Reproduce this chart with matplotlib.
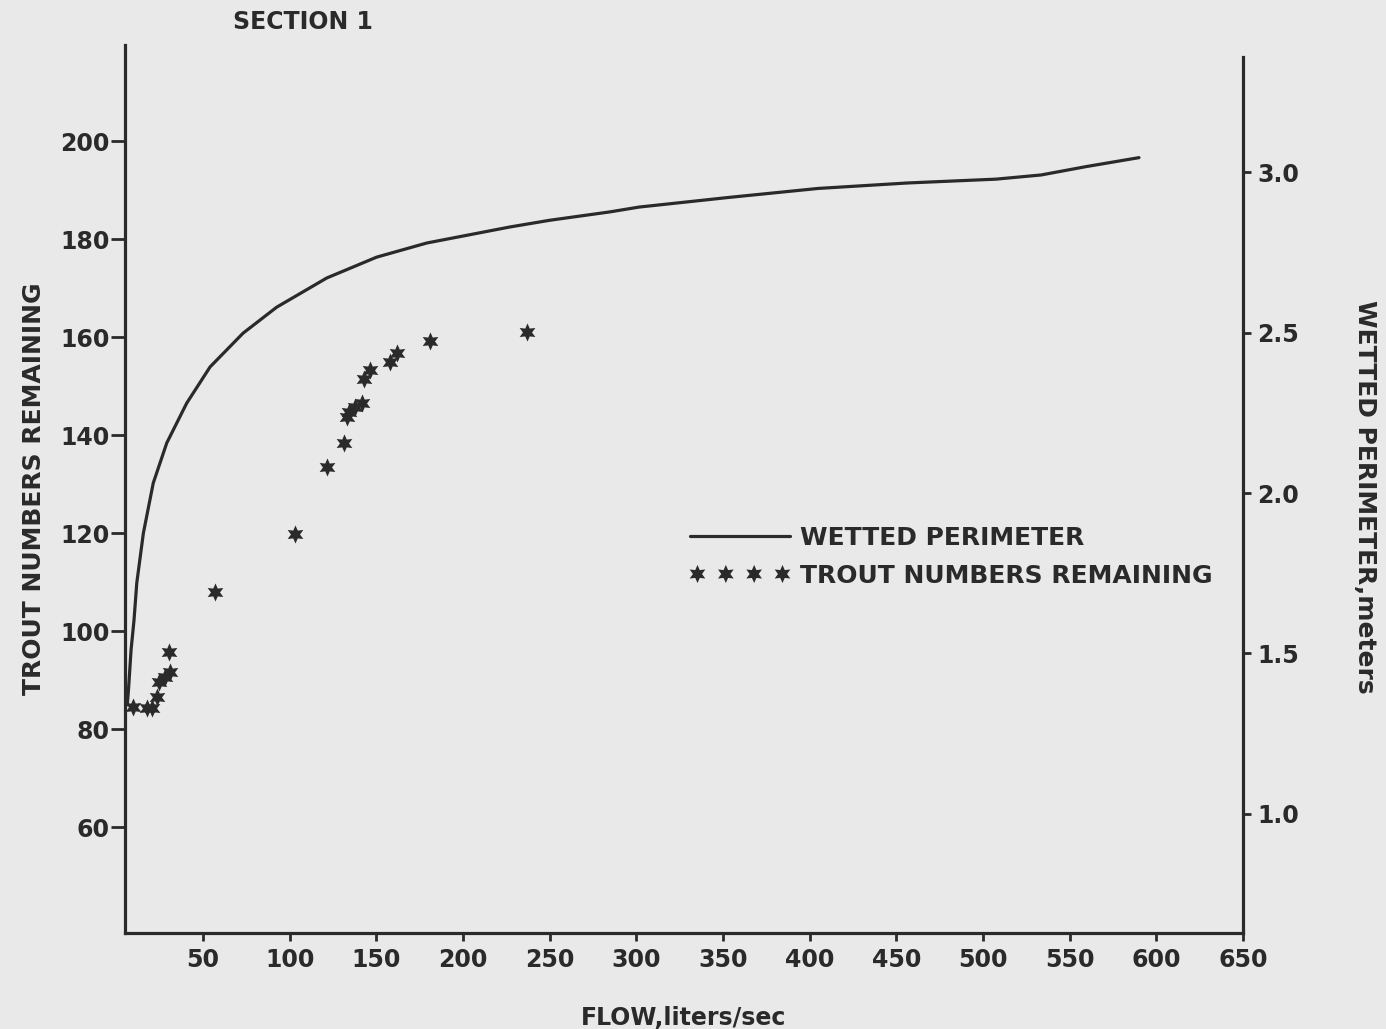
import matplotlib
matplotlib.use("Agg")
import matplotlib.pyplot as plt

plt.rcParams['font.family'] = ['DejaVu Sans']
plt.rcParams['font.weight'] = 'bold'
plt.rcParams['axes.labelweight'] = 'bold'

INK = '#2a2a2a'
BG = '#e9e9e9'

# Trout numbers remaining (left axis) vs flow
star_flow = [9.8, 17.5, 20.4, 23.5, 24.8, 28.1, 31.0, 30.3, 56.9, 103.1, 121.7,
             131.5, 133.3, 134.4, 137.7, 141.6, 142.9, 146.4, 157.9, 161.8, 181.0, 236.8]
trout = [84.5, 84.3, 84.3, 86.5, 89.7, 90.7, 91.6, 95.7, 108.0, 119.8, 133.5,
         138.3, 143.7, 144.8, 145.7, 146.6, 151.4, 153.3, 155.0, 156.8, 159.2, 161.1]

# Wetted perimeter (right axis) vs flow
wp_flow = [6.3, 7.0, 8.5, 10.2, 11.8, 15.6, 21.3, 29.1, 40.6, 54.1, 73.1, 92.5,
           121.4, 150.2, 179.1, 227.1, 250.2, 284.8, 301.6, 353.3, 404.8, 456.2,
           507.5, 533.5, 559.4, 590.0]
wp = [1.340, 1.386, 1.511, 1.604, 1.720, 1.875, 2.031, 2.156, 2.280, 2.393, 2.498,
      2.579, 2.670, 2.735, 2.779, 2.829, 2.850, 2.876, 2.891, 2.921, 2.949, 2.966,
      2.978, 2.991, 3.017, 3.045]

x_ticks = [50, 100, 150, 200, 250, 300, 350, 400, 450, 500, 550, 600, 650]
left_ticks = [60, 80, 100, 120, 140, 160, 180, 200]
right_ticks = [1.0, 1.5, 2.0, 2.5, 3.0]

W, H = 1386, 1029
fig = plt.figure(figsize=(W / 100, H / 100), dpi=100, facecolor=BG)
ax = fig.add_axes([125 / W, 1 - 933 / H, 1118 / W, 888 / H])
ax.set_facecolor('none')
ax2 = ax.twinx()
ax2.set_facecolor('none')

sc = ax.scatter(star_flow, trout, marker=(6, 1, 0), s=170, color=INK,
                linewidths=0, zorder=3, label='TROUT NUMBERS REMAINING')
ln, = ax2.plot(wp_flow, wp, color=INK, lw=2.3, solid_joinstyle='round',
               solid_capstyle='round', label='WETTED PERIMETER')

ax.set_xlim(5, 650)
ax.set_ylim(38.4, 219.6)
ax2.set_ylim(0.629, 3.396)

for a in (ax, ax2):
    a.spines['top'].set_visible(False)
    for s in a.spines.values():
        s.set_linewidth(2.3)
        s.set_color(INK)
ax.spines['right'].set_visible(False)
ax2.spines['left'].set_visible(False)
ax2.spines['bottom'].set_visible(False)
ax2.spines['right'].set_bounds(0.629, 3.358)

ax.set_xticks(x_ticks)
ax.set_xticklabels([str(v) for v in x_ticks])
ax.set_yticks(left_ticks)
ax.set_yticklabels([str(v) for v in left_ticks])
ax2.set_yticks(right_ticks)
ax2.set_yticklabels(['%.1f' % v for v in right_ticks])

ax.tick_params(axis='x', direction='out', length=6, width=2, color=INK,
               labelsize=17, labelcolor=INK, pad=5)
ax.tick_params(axis='y', direction='out', length=10, width=2, color=INK,
               labelsize=17, labelcolor=INK, pad=1)
ax2.tick_params(axis='y', direction='out', length=6, width=2, color=INK,
                labelsize=17, labelcolor=INK, pad=4)

ax.set_xlabel('FLOW,liters/sec', fontsize=17, color=INK, labelpad=24)
ax.set_ylabel('TROUT NUMBERS REMAINING', fontsize=18, color=INK, labelpad=10)
fig.text(1365 / W, 1 - 497 / H, 'WETTED PERIMETER,meters', fontsize=18,
         color=INK, rotation=270, ha='center', va='center')

fig.text(233 / W, 1 - 22 / H, 'SECTION 1', fontsize=17, color=INK,
         ha='left', va='center')

leg = ax2.legend([ln, sc], ['WETTED PERIMETER', 'TROUT NUMBERS REMAINING'],
                 loc='upper left', bbox_to_anchor=(690 / W, 1 - 526 / H),
                 bbox_transform=fig.transFigure, frameon=False, fontsize=18,
                 handlelength=4.0, handletextpad=0.4, labelspacing=0.55,
                 borderpad=0, borderaxespad=0, scatterpoints=4,
                 scatteryoffsets=[0.5])
for t in leg.get_texts():
    t.set_color(INK)

fig.savefig('out.png', dpi=100, facecolor=BG)
